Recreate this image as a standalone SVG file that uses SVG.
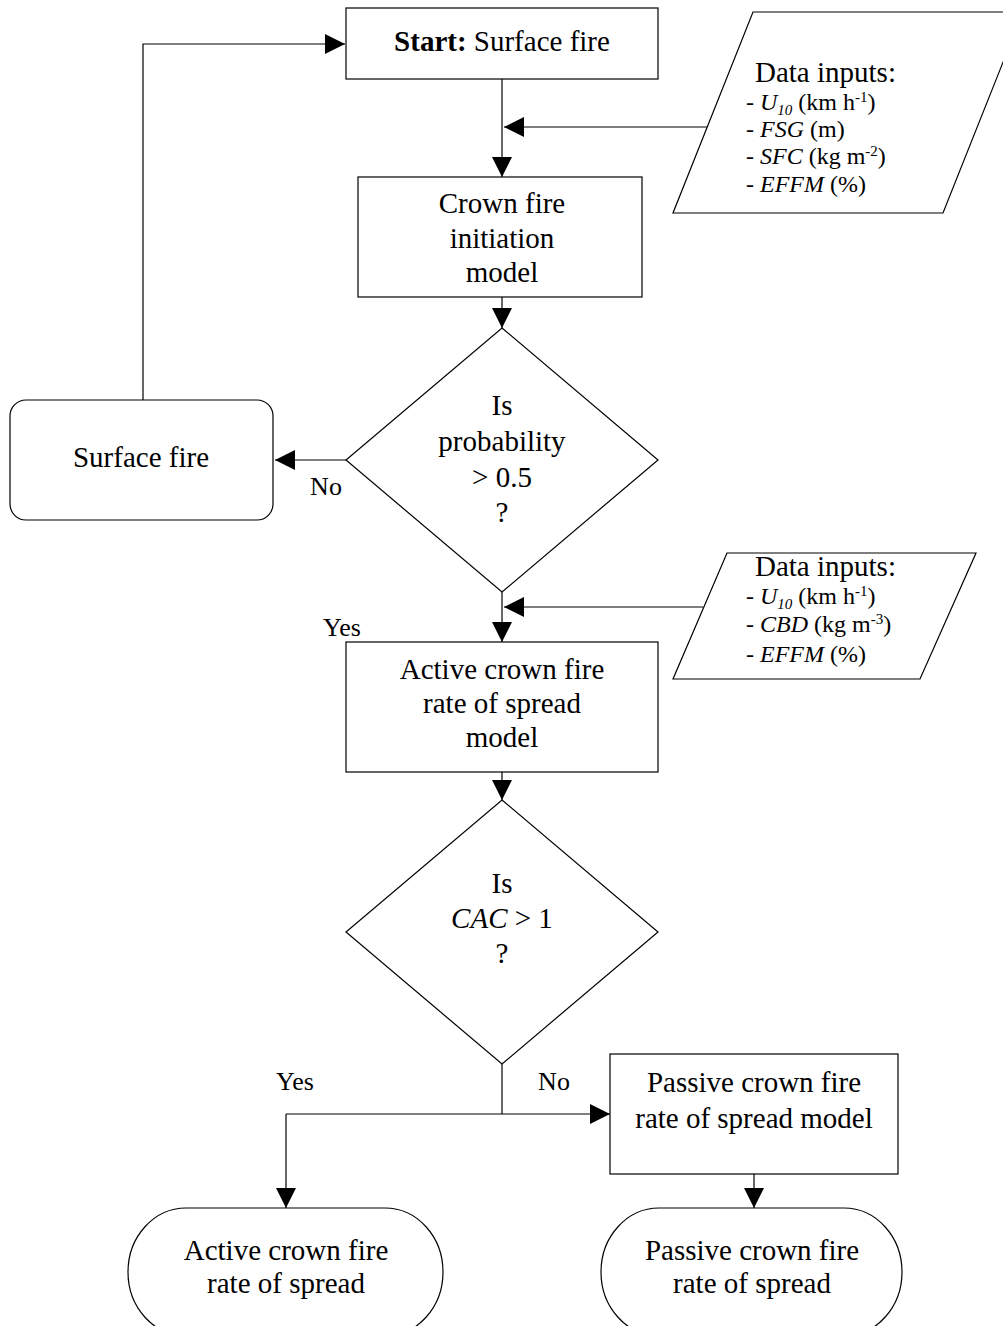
<svg xmlns="http://www.w3.org/2000/svg" width="1003" height="1326" viewBox="0 0 1003 1326">
<style>
.s{fill:#fff;stroke:#000;stroke-width:1.2}
.c{fill:none;stroke:#000;stroke-width:1.2}
text{font-family:"Liberation Serif","Times New Roman",serif;fill:#000}
.t{font-size:29px;text-anchor:middle}
.l{font-size:26px;text-anchor:middle}
.d{font-size:29px}
.e{font-size:24px}
.i{font-style:italic}
.sp{font-size:15px}
</style>
<defs>
<marker id="ah" markerUnits="userSpaceOnUse" markerWidth="21" markerHeight="21" refX="20" refY="10" orient="auto">
<path d="M0,0 L20,10 L0,20 Z" fill="#000"/>
</marker>
</defs>
<g id="connectors">
<path class="c" d="M502,79 V177" marker-end="url(#ah)"/>
<path class="c" d="M707,127 H504" marker-end="url(#ah)"/>
<path class="c" d="M502,297 V328" marker-end="url(#ah)"/>
<path class="c" d="M346,460 H275" marker-end="url(#ah)"/>
<path class="c" d="M143,400 V44 H345" marker-end="url(#ah)"/>
<path class="c" d="M502,592 V642" marker-end="url(#ah)"/>
<path class="c" d="M703,607 H504" marker-end="url(#ah)"/>
<path class="c" d="M502,772 V800" marker-end="url(#ah)"/>
<path class="c" d="M502,1064 V1114"/>
<path class="c" d="M286,1114 H610" marker-end="url(#ah)"/>
<path class="c" d="M286,1114 V1208" marker-end="url(#ah)"/>
<path class="c" d="M754,1174 V1208" marker-end="url(#ah)"/>
<text class="l" x="326" y="495">No</text>
<text class="l" x="342" y="636">Yes</text>
<text class="l" x="295" y="1090">Yes</text>
<text class="l" x="554" y="1090">No</text>
</g>
<g id="start">
<rect class="s" x="346" y="8" width="312" height="71"/>
<text class="t" x="502" y="51"><tspan font-weight="bold">Start:</tspan> Surface fire</text>
</g>
<g id="inputs1">
<polygon class="s" points="753,12 1023,12 943,213 673,213"/>
<text class="d" x="755" y="82">Data inputs:</text>
<text class="e" x="746" y="110">- <tspan class="i">U</tspan><tspan class="i sp" dy="5">10</tspan><tspan dy="-5"> (km h</tspan><tspan class="sp" dy="-8">-1</tspan><tspan dy="8">)</tspan></text>
<text class="e" x="746" y="137">- <tspan class="i">FSG</tspan> (m)</text>
<text class="e" x="746" y="164">- <tspan class="i">SFC</tspan> (kg m<tspan class="sp" dy="-8">-2</tspan><tspan dy="8">)</tspan></text>
<text class="e" x="746" y="192">- <tspan class="i">EFFM</tspan> (%)</text>
</g>
<g id="initiation">
<rect class="s" x="358" y="177" width="284" height="120"/>
<text class="t" x="502" y="213">Crown fire</text>
<text class="t" x="502" y="248">initiation</text>
<text class="t" x="502" y="282">model</text>
</g>
<g id="decision1">
<polygon class="s" points="502,328 658,460 502,592 346,460"/>
<text class="t" x="502" y="415">Is</text>
<text class="t" x="502" y="451">probability</text>
<text class="t" x="502" y="487">&gt; 0.5</text>
<text class="t" x="502" y="522">?</text>
</g>
<g id="surface">
<rect class="s" x="10" y="400" width="263" height="120" rx="16" ry="16"/>
<text class="t" x="141" y="467">Surface fire</text>
</g>
<g id="inputs2">
<polygon class="s" points="727,553 976,553 920,679 673,679"/>
<text class="d" x="755" y="576">Data inputs:</text>
<text class="e" x="746" y="604">- <tspan class="i">U</tspan><tspan class="i sp" dy="5">10</tspan><tspan dy="-5"> (km h</tspan><tspan class="sp" dy="-8">-1</tspan><tspan dy="8">)</tspan></text>
<text class="e" x="746" y="632">- <tspan class="i">CBD</tspan> (kg m<tspan class="sp" dy="-8">-3</tspan><tspan dy="8">)</tspan></text>
<text class="e" x="746" y="662">- <tspan class="i">EFFM</tspan> (%)</text>
</g>
<g id="active-model">
<rect class="s" x="346" y="642" width="312" height="130"/>
<text class="t" x="502" y="679">Active crown fire</text>
<text class="t" x="502" y="713">rate of spread</text>
<text class="t" x="502" y="747">model</text>
</g>
<g id="decision2">
<polygon class="s" points="502,800 658,932 502,1064 346,932"/>
<text class="t" x="502" y="893">Is</text>
<text class="t" x="502" y="928"><tspan class="i">CAC</tspan> &gt; 1</text>
<text class="t" x="502" y="963">?</text>
</g>
<g id="passive-model">
<rect class="s" x="610" y="1054" width="288" height="120"/>
<text class="t" x="754" y="1092">Passive crown fire</text>
<text class="t" x="754" y="1128">rate of spread model</text>
</g>
<g id="active-result">
<rect class="s" x="128" y="1208" width="315" height="128" rx="58" ry="64"/>
<text class="t" x="286" y="1260">Active crown fire</text>
<text class="t" x="286" y="1293">rate of spread</text>
</g>
<g id="passive-result">
<rect class="s" x="601" y="1208" width="301" height="128" rx="58" ry="64"/>
<text class="t" x="752" y="1260">Passive crown fire</text>
<text class="t" x="752" y="1293">rate of spread</text>
</g>
</svg>
